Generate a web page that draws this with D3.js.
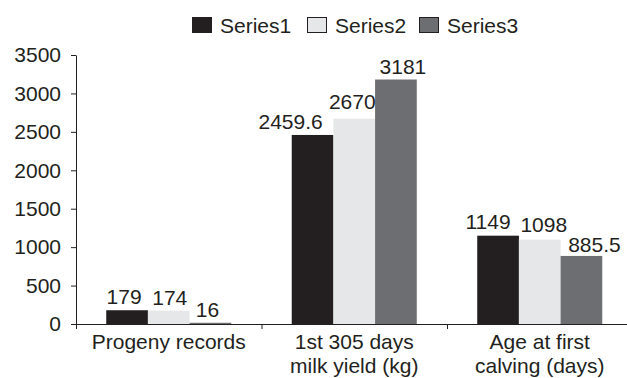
<!DOCTYPE html>
<html>
<head>
<meta charset="utf-8">
<script src="https://cdn.jsdelivr.net/npm/d3@7"></script>
<style>
  body { margin: 0; background: #fff; }
  svg { display: block; font-family: "Liberation Sans", Arial, sans-serif; }
</style>
</head>
<body>
<div id="chart"></div>
<script>
// chart data
var categories = [
    ['Progeny records'],
    ['1st 305 days', 'milk yield (kg)'],
    ['Age at first', 'calving (days)']
]
var series_names = ['Series1', 'Series2', 'Series3']
var series1 = [179, 2459.6, 1149]
var series2 = [174, 2670, 1098]
var series3 = [16, 3181, 885.5]
var value_labels = [
    ['179', '2459.6', '1149'],
    ['174', '2670', '1098'],
    ['16', '3181', '885.5']
]
var y_ticks = [0, 500, 1000, 1500, 2000, 2500, 3000, 3500]

var colors = ['#231f20', '#e6e7e8', '#6d6e71']
var ink = '#231f20'

// hand nudges of the value labels (the original labels were moved around a bit)
var nudge = [
    [[-3, 0], [-22, 0], [-10, -1]],
    [[1, 0], [-2, -4], [4, -2]],
    [[-3, 0], [7, 0], [13, 2]]
]

var width = 627, height = 378
var margin = {top: 55, left: 76, bottom: 54}

var svg = d3.select('#chart')
    .append('svg')
        .attr('width', width)
        .attr('height', height)

var y = d3.scaleLinear()
    .domain([0, 3500])
    .range([height - margin.bottom, margin.top])

var catIdx = d3.range(categories.length)
var x0 = d3.scaleBand()
    .domain(catIdx)
    .range([margin.left, margin.left + 3 * 185.5])
    .paddingInner(0.326)
    .paddingOuter(0.163)

var x1 = d3.scaleBand()
    .domain(d3.range(series_names.length))
    .range([0, x0.bandwidth()])

var all_series = [series1, series2, series3]

// bars
all_series.forEach(function(vals, s) {
    svg.append('g').selectAll('rect')
        .data(vals)
        .join('rect')
            .attr('x', function(d, i) { return x0(i) + x1(s) })
            .attr('y', function(d) { return y(d) })
            .attr('width', x1.bandwidth())
            .attr('height', function(d) { return y(0) - y(d) })
            .attr('fill', colors[s])
})

// value labels
all_series.forEach(function(vals, s) {
    svg.append('g').selectAll('text')
        .data(vals)
        .join('text')
            .attr('x', function(d, i) { return x0(i) + x1(s) + x1.bandwidth() / 2 + nudge[s][i][0] })
            .attr('y', function(d, i) { return y(d) - 6 + nudge[s][i][1] })
            .attr('text-anchor', 'middle')
            .attr('font-size', '21px')
            .attr('fill', ink)
            .text(function(d, i) { return value_labels[s][i] })
})

// y axis
var yAxis = svg.append('g')
    .attr('transform', 'translate(' + margin.left + ',0)')
    .call(d3.axisLeft(y).tickValues(y_ticks).tickFormat(d3.format('d'))
        .tickSize(5).tickSizeOuter(0).tickPadding(10))
yAxis.selectAll('text').attr('font-size', '21px').attr('fill', ink).attr('font-family', null)
yAxis.selectAll('line, path').attr('stroke', ink)

// x axis (ticks at the category boundaries)
var step = x0.step()
var xb = d3.scaleLinear().domain([0, 3]).range([margin.left, margin.left + 3 * step])
var xAxis = svg.append('g')
    .attr('transform', 'translate(0,' + y(0) + ')')
    .call(d3.axisBottom(xb).tickValues([0, 1, 2, 3]).tickSize(5).tickSizeOuter(0).tickFormat(''))
xAxis.selectAll('line, path').attr('stroke', ink)

// category labels
categories.forEach(function(lines, i) {
    var t = svg.append('text')
        .attr('x', x0(i) + x0.bandwidth() / 2)
        .attr('y', 349)
        .attr('text-anchor', 'middle')
        .attr('font-size', '21px')
        .attr('fill', ink)
    lines.forEach(function(l, k) {
        t.append('tspan')
            .attr('x', x0(i) + x0.bandwidth() / 2)
            .attr('dy', k == 0 ? 0 : 24)
            .text(l)
    })
})

// legend
var legend_x = [192, 307, 419]
series_names.forEach(function(name, s) {
    var g = svg.append('g').attr('transform', 'translate(' + legend_x[s] + ',17)')
    g.append('rect')
        .attr('x', 0.5).attr('y', 0.5)
        .attr('width', 19).attr('height', 15)
        .attr('fill', colors[s])
        .attr('stroke', ink)
        .attr('stroke-width', 1)
    g.append('text')
        .attr('x', 28)
        .attr('y', 16)
        .attr('font-size', '21px')
        .attr('fill', ink)
        .text(name)
})
</script>
</body>
</html>
